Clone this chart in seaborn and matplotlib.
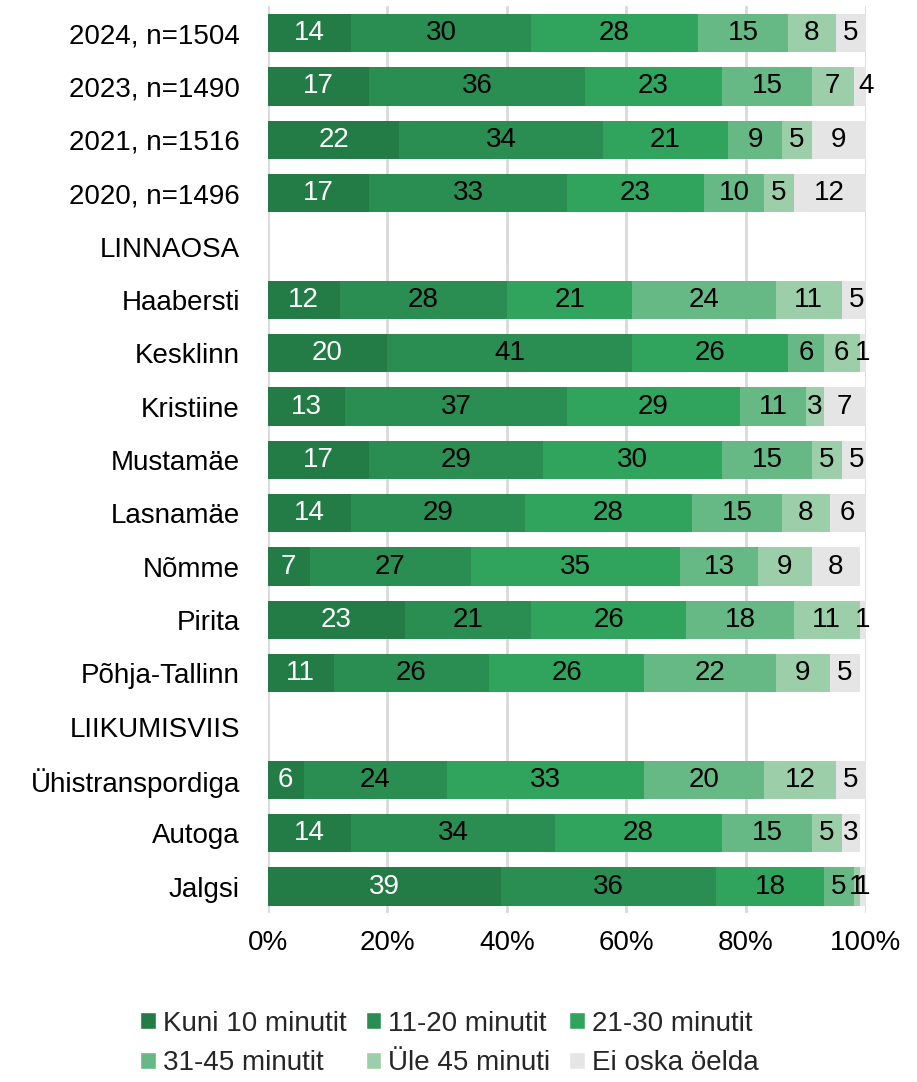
import numpy as np
import pandas as pd
import seaborn as sns
import matplotlib.pyplot as plt
from matplotlib.patches import Patch

# andmed
ridad = ["2024, n=1504", "2023, n=1490", "2021, n=1516", "2020, n=1496", "LINNAOSA",
         "Haabersti", "Kesklinn", "Kristiine", "Mustamäe", "Lasnamäe", "Nõmme", "Pirita",
         "Põhja-Tallinn", "LIIKUMISVIIS", "Ühistranspordiga", "Autoga", "Jalgsi"]
kategooriad = ["Kuni 10 minutit", "11-20 minutit", "21-30 minutit",
               "31-45 minutit", "Üle 45 minuti", "Ei oska öelda"]
kuni10 = [14, 17, 22, 17, 0, 12, 20, 13, 17, 14, 7, 23, 11, 0, 6, 14, 39]
min11_20 = [30, 36, 34, 33, 0, 28, 41, 37, 29, 29, 27, 21, 26, 0, 24, 34, 36]
min21_30 = [28, 23, 21, 23, 0, 21, 26, 29, 30, 28, 35, 26, 26, 0, 33, 28, 18]
min31_45 = [15, 15, 9, 10, 0, 24, 6, 11, 15, 15, 13, 18, 22, 0, 20, 15, 5]
yle45 = [8, 7, 5, 5, 0, 11, 6, 3, 5, 8, 9, 11, 9, 0, 12, 5, 1]
ei_oska = [5, 4, 9, 12, 0, 5, 1, 7, 5, 6, 8, 1, 5, 0, 5, 3, 1]

varvid = ["#237b45", "#2a8d52", "#30a35c", "#66b884", "#9ccfa9", "#e5e5e5"]
teksti_varv = ["white", "black", "black", "black", "black", "black"]

df = pd.DataFrame({"rida": ridad, kategooriad[0]: kuni10, kategooriad[1]: min11_20,
                   kategooriad[2]: min21_30, kategooriad[3]: min31_45,
                   kategooriad[4]: yle45, kategooriad[5]: ei_oska})
kum = df[kategooriad].cumsum(axis=1)

sns.set_style("white")
plt.rcParams["font.family"] = ["Liberation Sans", "DejaVu Sans"]
fs = 20

fig = plt.figure(figsize=(9.17, 10.82), dpi=100)
ax = fig.add_axes([0.292, 0.156, 0.652, 0.838])

# kumulatiivsed ribad suuremast väiksemani (virnastatud välimus)
for i in range(len(kategooriad) - 1, -1, -1):
    sns.barplot(x=kum[kategooriad[i]], y=df["rida"], order=ridad, orient="h",
                color=varvid[i], saturation=1, width=0.72, linewidth=0,
                edgecolor="none", ax=ax, zorder=3)

# väärtuste sildid
for j, r in df.iterrows():
    alg = 0
    for i, k in enumerate(kategooriad):
        v = r[k]
        if v > 0:
            ax.text(alg + v / 2, j, str(v), ha="center", va="center",
                    fontsize=fs, color=teksti_varv[i], zorder=5)
        alg += v

ax.set_xlim(0, 100)
ax.set_ylim(len(ridad) - 0.5, -0.5)
ax.set_xticks([0, 20, 40, 60, 80, 100])
ax.set_xticklabels([f"{t}%" for t in [0, 20, 40, 60, 80, 100]])
ax.xaxis.grid(True, color="#d9d9d9", linewidth=2, zorder=0)
ax.set_axisbelow(True)
for s in ax.spines.values():
    s.set_visible(False)
ax.set_xlabel("")
ax.set_ylabel("")
ax.tick_params(axis="both", length=0, labelsize=fs, colors="black")
ax.tick_params(axis="x", pad=12)
ax.tick_params(axis="y", pad=20)

# legend reakaupa: matplotlib täidab veergude kaupa, seega järjekord ümber
jarjekord = [0, 3, 1, 4, 2, 5]
handles = [Patch(facecolor=varvid[i], label=kategooriad[i]) for i in jarjekord]
fig.legend(handles=handles, loc="lower center", bbox_to_anchor=(0.49, -0.018), ncol=3,
           frameon=False, fontsize=fs, handlelength=0.55, handleheight=0.55,
           handletextpad=0.25, columnspacing=0.7, labelspacing=0.5)

fig.savefig("out.png", dpi=100)
